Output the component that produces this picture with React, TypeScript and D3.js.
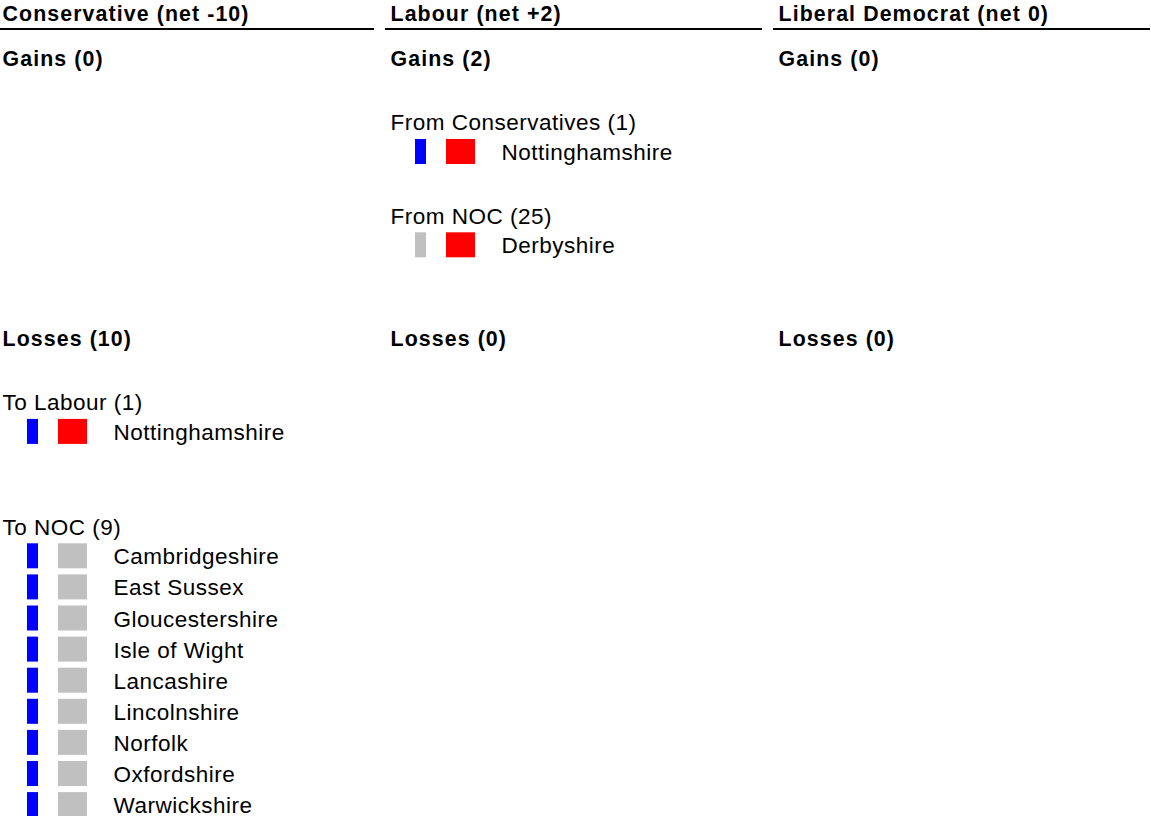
import React from 'react';
import * as d3 from 'd3';

// parties shown as columns
const PARTIES = ["Conservative", "Labour", "Liberal Democrat"];
const NET = [-10, 2, 0];
const GAINS = [0, 2, 0];
const LOSSES = [10, 0, 0];
const PARTY_COLOR: Record<string, string> = {
  Conservative: "#0000ff",
  Labour: "#ff0000",
  NOC: "#c0c0c0",
};

// councils changing hands, per group
const LAB_FROM_CON = ["Nottinghamshire"];
const LAB_FROM_NOC = ["Derbyshire"];
const CON_TO_LAB = ["Nottinghamshire"];
const CON_TO_NOC = [
  "Cambridgeshire", "East Sussex", "Gloucestershire", "Isle of Wight",
  "Lancashire", "Lincolnshire", "Norfolk", "Oxfordshire", "Warwickshire",
];

const GROUPS = [
  { party: "Labour", section: "Gains", other: "Conservative", label: "From Conservatives", count: 1, councils: LAB_FROM_CON },
  { party: "Labour", section: "Gains", other: "NOC", label: "From NOC", count: 25, councils: LAB_FROM_NOC },
  { party: "Conservative", section: "Losses", other: "Labour", label: "To Labour", count: 1, councils: CON_TO_LAB },
  { party: "Conservative", section: "Losses", other: "NOC", label: "To NOC", count: 9, councils: CON_TO_NOC },
];

const SECTIONS = ["Gains", "Losses"];
const SECTION_START: Record<string, number> = { Gains: 0, Losses: 9 };   // row index of section title
const GROUP_GAP: Record<string, number> = { Gains: 1, Losses: 2 };        // blank rows after a group

const W = 1151;
const H = 816;
const FONT = "'Liberation Sans', Arial, sans-serif";

export default function App() {
  const x = d3.scaleLinear().domain([0, 1]).range([-3, 385]);
  const row = d3.scaleLinear().domain([0, 1]).range([65.7, 96.8]);
  const colW = 377;

  const fmtNet = (n: number) => (n > 0 ? `+${n}` : `${n}`);

  const items: React.ReactNode[] = [];

  PARTIES.forEach((party, pi) => {
    const cx = x(pi);
    items.push(
      <g key={`h-${party}`}>
        <text x={cx + 5.5} y={21} fontWeight="bold" letterSpacing={1.1}>
          {`${party} (net ${fmtNet(NET[pi])})`}
        </text>
        <rect x={cx} y={28} width={colW} height={2} fill="#000" />
      </g>
    );

    SECTIONS.forEach((sec) => {
      const total = sec === "Gains" ? GAINS[pi] : LOSSES[pi];
      let r = SECTION_START[sec];
      items.push(
        <text key={`s-${party}-${sec}`} x={cx + 5.5} y={row(r)} fontWeight="bold" letterSpacing={1.1}>
          {`${sec} (${total})`}
        </text>
      );
      r += 2;
      GROUPS.filter(g => g.party === party && g.section === sec).forEach((g, gi) => {
        items.push(
          <text key={`g-${party}-${sec}-${gi}`} x={cx + 5.5} y={row(r) + 2.5}
            fontSize={22.5} letterSpacing={0.5}>
            {`${g.label} (${g.count})`}
          </text>
        );
        g.councils.forEach((c, ci) => {
          const yb = row(r + 1 + ci);
          const fromColor = sec === "Gains" ? PARTY_COLOR[g.other] : PARTY_COLOR[party];
          const toColor = sec === "Gains" ? PARTY_COLOR[party] : PARTY_COLOR[g.other];
          items.push(
            <g key={`c-${party}-${sec}-${gi}-${ci}`}>
              <rect x={cx + 30} y={yb - 20} width={11} height={25} fill={fromColor} />
              <rect x={cx + 61} y={yb - 20} width={29} height={25} fill={toColor} />
              <text x={cx + 116.5} y={yb + 1} fontSize={22.5} letterSpacing={0.5}>{c}</text>
            </g>
          );
        });
        r += 1 + g.councils.length + GROUP_GAP[sec];
      });
    });
  });

  return (
    <svg
      width={W}
      height={H}
      style={{ position: "absolute", left: 0, top: 0, background: "#fff" }}
      fontFamily={FONT}
      fontSize={21.33}
      fill="#000"
    >
      {items}
    </svg>
  );
}
